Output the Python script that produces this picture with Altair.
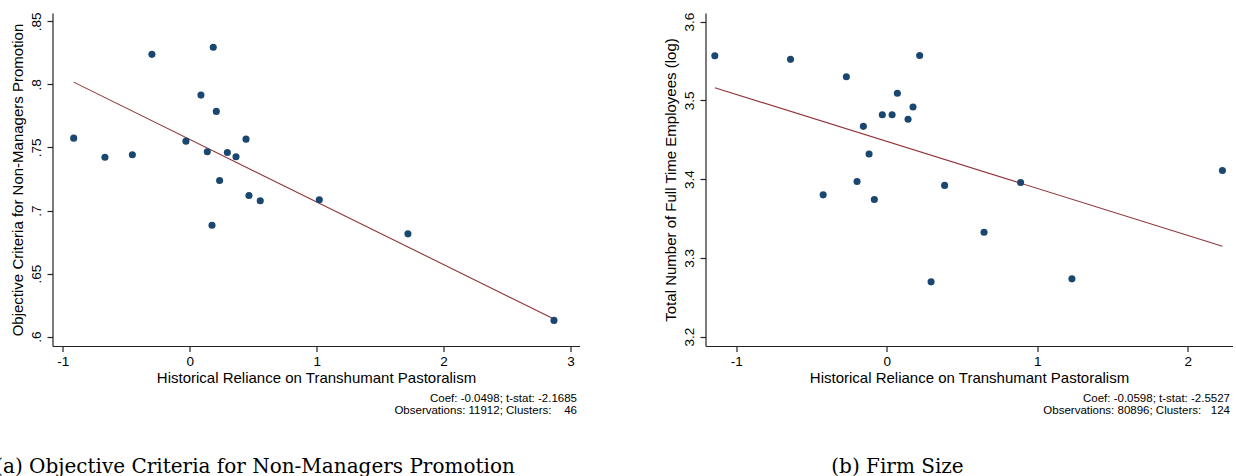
import altair as alt
import pandas as pd

# ---------------- Panel (a) data ----------------
a_x = [-0.913, -0.667, -0.451, -0.297, -0.029, 0.089, 0.186, 0.210, 0.139, 0.297,
       0.365, 0.444, 0.236, 0.467, 0.556, 0.176, 1.021, 1.719, 2.869]
a_y = [0.7574, 0.7423, 0.7442, 0.8238, 0.7550, 0.7915, 0.8294, 0.7786, 0.7466, 0.7460,
       0.7426, 0.7566, 0.7238, 0.7119, 0.7077, 0.6883, 0.7085, 0.6815, 0.6129]
a_fit_x = [-0.913, 2.869]
a_fit_y = [0.8018, 0.6140]
a_xticks = [-1, 0, 1, 2, 3]
a_yticks = [0.6, 0.65, 0.7, 0.75, 0.8, 0.85]
a_ytitle = "Objective Criteria for Non-Managers Promotion"
a_notes = ["Coef: -0.0498; t-stat: -2.1685", "Observations: 11912; Clusters:\u00a0\u00a0\u00a0\u00a046"]
a_caption = "(a) Objective Criteria for Non-Managers Promotion"

# ---------------- Panel (b) data ----------------
b_x = [-1.142, -0.639, -0.268, -0.422, -0.197, -0.155, -0.117, -0.082, -0.029, 0.036,
       0.071, 0.142, 0.175, 0.219, 0.295, 0.385, 0.647, 0.890, 1.231, 2.231]
b_y = [3.5568, 3.5521, 3.5300, 3.3800, 3.3970, 3.4670, 3.4320, 3.3740, 3.4818, 3.4818,
       3.5090, 3.4760, 3.4915, 3.5570, 3.2695, 3.3920, 3.3326, 3.3958, 3.2733, 3.4110]
b_fit_x = [-1.142, 2.231]
b_fit_y = [3.5161, 3.3148]
b_xticks = [-1, 0, 1, 2]
b_yticks = [3.2, 3.3, 3.4, 3.5, 3.6]
b_ytitle = "Total Number of Full Time Employees (log)"
b_notes = ["Coef: -0.0598; t-stat: -2.5527", "Observations: 80896; Clusters:\u00a0\u00a0\u00a0124"]
b_caption = "(b) Firm Size"

XTITLE = "Historical Reliance on Transhumant Pastoralism"
W, H = 527, 333
DOT = "#1a476f"
FIT = "#90353b"
SANS = "Liberation Sans"
SERIF = "DejaVu Serif"


def panel(xs, ys, fx, fy, xdom, xticks, ydom, yticks, ylabel_expr, ytitle, notes, caption, cap_x):
    df = pd.DataFrame({"x": xs, "y": ys})
    fit = pd.DataFrame({"x": fx, "y": fy})
    xsc = alt.Scale(domain=xdom, nice=False, zero=False)
    ysc = alt.Scale(domain=ydom, nice=False, zero=False)
    xax = alt.Axis(values=xticks, title=XTITLE, labelExpr="'' + datum.value",
                   labelPadding=3, titlePadding=2)
    yax = alt.Axis(values=yticks, title=ytitle, labelExpr=ylabel_expr, labelAngle=-90,
                   labelPadding=4, titlePadding=4)
    pts = alt.Chart(df).mark_circle(size=50, color=DOT, opacity=1).encode(
        x=alt.X("x:Q", scale=xsc, axis=xax),
        y=alt.Y("y:Q", scale=ysc, axis=yax),
    )
    line = alt.Chart(fit).mark_line(color=FIT, strokeWidth=1.1).encode(
        x=alt.X("x:Q", scale=xsc),
        y=alt.Y("y:Q", scale=ysc),
    )
    one = alt.Data(values=[{}])
    note = alt.Chart(one).mark_text(
        text=notes, align="right", baseline="alphabetic", font=SANS, fontSize=11.5,
        lineHeight=12, color="#000"
    ).encode(x=alt.value(W - 2.5), y=alt.value(H + 56))
    cap = alt.Chart(one).mark_text(
        text=caption, align="center", baseline="alphabetic", font=SERIF, fontSize=20,
        color="#000"
    ).encode(x=alt.value(cap_x), y=alt.value(H + 127))
    return alt.layer(line, pts, note, cap).properties(width=W, height=H)


left = panel(a_x, a_y, a_fit_x, a_fit_y, [-1.08, 3.07], a_xticks, [0.5926, 0.8566], a_yticks,
             "substring(format(datum.value, '.2~f'), 1)", a_ytitle, a_notes, a_caption, 202.5)
right = panel(b_x, b_y, b_fit_x, b_fit_y, [-1.204, 2.298], b_xticks, [3.188, 3.611], b_yticks,
              "format(datum.value, '.1f')", b_ytitle, b_notes, b_caption, 192)

chart = alt.hconcat(left, right, spacing=126, bounds="flush").properties(
    padding={"left": -5.5, "top": 11, "right": 0, "bottom": 0},
    autosize=alt.AutoSizeParams(type="pad"),
    background="white",
).configure_view(stroke=None).configure_axis(
    grid=False, domainColor="#222", tickColor="#222", labelColor="#000", titleColor="#000",
    labelFont=SANS, titleFont=SANS, labelFontSize=13.5, titleFontSize=15,
    titleFontWeight="normal", tickSize=5.5, domainWidth=1.2, tickWidth=1.2,
)

chart.save("out.html", embed_options={"renderer": "svg", "actions": False})
